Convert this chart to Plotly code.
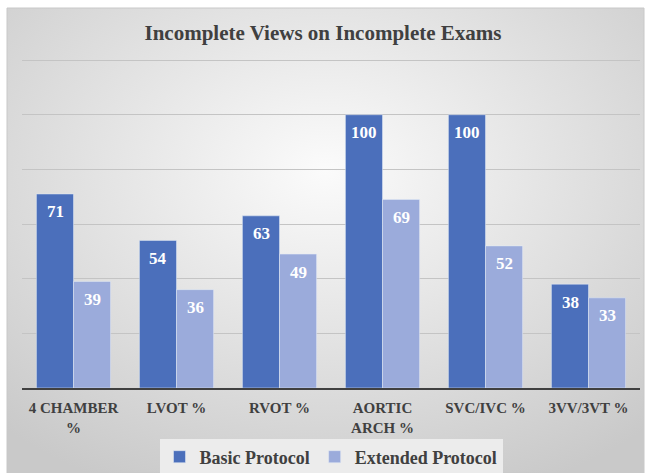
import base64
import plotly.graph_objects as go

categories = ["4 CHAMBER<br>%", "LVOT %", "RVOT %", "AORTIC<br>ARCH %", "SVC/IVC %", "3VV/3VT %"]
basic = [71, 54, 63, 100, 100, 38]
extended = [39, 36, 49, 69, 52, 33]

W, H = 646, 473
L, R, T, B = 22, 6, 59, 85
pw, ph = W - L - R, H - T - B

font = "Liberation Serif, Times New Roman, serif"

svg = """<svg xmlns='http://www.w3.org/2000/svg' width='646' height='473'>
<defs><radialGradient id='g' cx='50%' cy='35%' r='75%'>
<stop offset='0' stop-color='#fbfbfb'/><stop offset='1' stop-color='#c9c9c9'/>
</radialGradient></defs>
<rect width='646' height='473' fill='url(#g)'/></svg>"""
bg = "data:image/svg+xml;base64," + base64.b64encode(svg.encode()).decode()

fig = go.Figure()
fig.add_trace(go.Bar(x=categories, y=basic, name="<b>Basic Protocol</b>", marker_color="#4b6fbb"))
fig.add_trace(go.Bar(x=categories, y=extended, name="<b>Extended Protocol</b>", marker_color="#9babdb"))

# value labels inside the top of each bar
bar_half = 18.5
for vals, sh in ((basic, -bar_half), (extended, bar_half)):
    for c, v in zip(categories, vals):
        fig.add_annotation(x=c, y=v, text="<b>%d</b>" % v, showarrow=False, xshift=sh, yshift=-18,
                           font=dict(color="white", size=17, family=font))

# frame position in paper coords
x0 = (7 - L) / pw
x1 = (644 - L) / pw
y0 = (H - B - 473) / ph
y1 = (H - B - 8) / ph

fig.add_layout_image(dict(source=bg, xref="paper", yref="paper", x=x0, y=y1,
                          sizex=x1 - x0, sizey=y1 - y0, sizing="stretch", layer="below"))
fig.add_shape(type="rect", xref="paper", yref="paper", x0=x0, x1=x1, y0=y0, y1=y1,
              line=dict(color="#c8c8c8", width=1), layer="below")

fig.update_layout(
    width=W, height=H,
    margin=dict(l=L, r=R, t=T, b=B, autoexpand=False),
    paper_bgcolor="white", plot_bgcolor="rgba(0,0,0,0)",
    title=dict(text="<b>Incomplete Views on Incomplete Exams</b>", x=0.5, xanchor="center",
               y=1 - 33 / H, yanchor="middle",
               font=dict(family=font, size=21, color="#404040")),
    barmode="group", bargap=0.28, bargroupgap=0,
    font=dict(family=font, color="#404040"),
    legend=dict(orientation="h", x=0.5, xanchor="center", y=(388 - 457) / ph, yanchor="middle",
                bgcolor="#ececec", font=dict(size=18, family=font, color="#404040"),
                traceorder="normal"),
)
fig.update_xaxes(showline=True, linecolor="#404040", linewidth=2, ticks="",
                 tickfont=dict(size=15, family=font, color="#404040"), showgrid=False,
                 ticklabelstandoff=5,
                 ticktext=["<b>" + c.replace("<br>", "</b><br><b>") + "</b>" for c in categories],
                 tickvals=categories)
fig.update_yaxes(range=[0, 120.4], dtick=20, showticklabels=False, showgrid=True,
                 gridcolor="#c4c4c4", gridwidth=1, zeroline=False)

fig.write_html("out.html", config={"displayModeBar": False},
               post_script="document.body.style.margin='0';")
